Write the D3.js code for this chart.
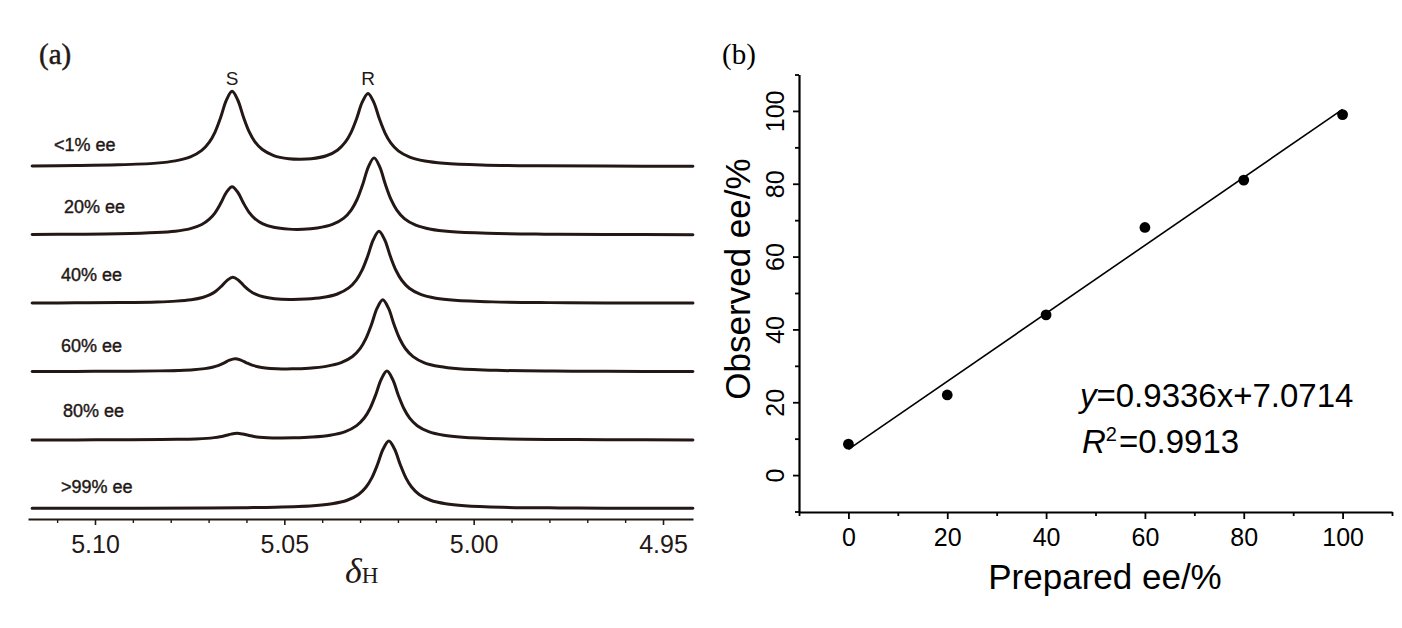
<!DOCTYPE html>
<html><head><meta charset="utf-8">
<script src="https://cdn.jsdelivr.net/npm/d3@7"></script>
<style>html,body{margin:0;padding:0;background:#fff}svg{display:block}</style>
</head><body>
<svg id="chart" width="1402" height="628"></svg>
<script>
// ---------- Panel (a) data: 1H NMR traces (chemical shift in ppm, intensity in % of tallest peak) ----------
const traceLabels = ["<1% ee", "20% ee", "40% ee", "60% ee", "80% ee", ">99% ee"];
const peakLabels = ["S", "R"];
const peakLabelShift = [5.0638, 5.0279];

const shift1 = [5.1166, 5.105, 5.0938, 5.0838, 5.0788, 5.0748, 5.0718, 5.0698, 5.0683, 5.0668, 5.0653, 5.0638, 5.0623, 5.0608, 5.0593, 5.0578, 5.0558, 5.0528, 5.0488, 5.0459, 5.0429, 5.0389, 5.0359, 5.0339, 5.0324, 5.0309, 5.0294, 5.0279, 5.0264, 5.0249, 5.0234, 5.0219, 5.0199, 5.0169, 5.0129, 5.0079, 4.9979, 4.9829, 4.965, 4.9421];
const int1   = [0.8, 1.2, 2.2, 4.5, 7.5, 12.8, 21.4, 32.4, 45.9, 65.6, 88.4, 100.2, 88.7, 66.0, 46.5, 33.3, 22.6, 14.6, 10.4, 9.7, 10.3, 14.3, 22.1, 32.4, 45.2, 64.0, 86.1, 97.3, 85.8, 63.6, 44.6, 31.5, 20.8, 12.5, 7.3, 4.4, 2.1, 1.0, 0.6, 0.3];

const shift2 = [5.1166, 5.105, 5.0938, 5.0838, 5.0788, 5.0748, 5.0718, 5.0698, 5.0683, 5.0668, 5.0653, 5.0638, 5.0623, 5.0608, 5.0593, 5.0578, 5.0558, 5.0528, 5.0488, 5.0451, 5.0413, 5.0373, 5.0343, 5.0323, 5.0308, 5.0293, 5.0278, 5.0263, 5.0248, 5.0233, 5.0218, 5.0203, 5.0183, 5.0153, 5.0113, 5.0063, 4.9963, 4.9813, 4.965, 4.9421];
const int2   = [0.6, 0.9, 1.5, 3.1, 5.0, 8.4, 13.9, 21.0, 29.5, 42.1, 56.7, 64.2, 56.9, 42.5, 30.1, 21.8, 15.0, 10.1, 7.7, 7.5, 9.1, 13.9, 22.4, 33.5, 47.2, 67.3, 90.8, 102.7, 90.6, 67.1, 46.9, 33.0, 21.7, 12.9, 7.5, 4.4, 2.1, 1.0, 0.6, 0.3];

const shift3 = [5.1166, 5.105, 5.0936, 5.0836, 5.0786, 5.0746, 5.0716, 5.0696, 5.0681, 5.0666, 5.0651, 5.0636, 5.0621, 5.0606, 5.0591, 5.0576, 5.0556, 5.0526, 5.0486, 5.0443, 5.0400, 5.0360, 5.0330, 5.0310, 5.0295, 5.0280, 5.0265, 5.0250, 5.0235, 5.0220, 5.0205, 5.0190, 5.0170, 5.0140, 5.0100, 5.0050, 4.9950, 4.9800, 4.965, 4.9421];
const int3   = [0.4, 0.6, 1.0, 1.8, 2.9, 4.8, 7.7, 11.5, 16.1, 22.8, 30.6, 34.7, 30.8, 23.1, 16.6, 12.2, 8.7, 6.2, 5.1, 5.6, 7.6, 12.4, 20.5, 31.0, 43.8, 62.7, 84.7, 96.0, 84.7, 62.6, 43.7, 30.7, 20.1, 11.9, 6.8, 4.0, 1.9, 0.9, 0.5, 0.3];

const shift4 = [5.1166, 5.105, 5.0930, 5.0830, 5.0780, 5.0740, 5.0710, 5.0690, 5.0675, 5.0660, 5.0645, 5.0630, 5.0615, 5.0600, 5.0585, 5.0570, 5.0550, 5.0520, 5.0480, 5.0435, 5.0390, 5.0350, 5.0320, 5.0300, 5.0285, 5.0270, 5.0255, 5.0240, 5.0225, 5.0210, 5.0195, 5.0180, 5.0160, 5.0130, 5.0090, 5.0040, 4.9940, 4.9790, 4.965, 4.9421];
const int4   = [0.3, 0.4, 0.6, 1.1, 1.7, 2.6, 4.1, 6.0, 8.2, 11.5, 15.4, 17.4, 15.5, 11.9, 8.7, 6.7, 5.0, 4.0, 3.8, 4.7, 7.1, 12.0, 20.2, 30.7, 43.7, 62.6, 84.7, 96.0, 84.7, 62.5, 43.6, 30.6, 20.1, 11.8, 6.8, 3.9, 1.8, 0.8, 0.5, 0.3];

const shift5 = [5.1166, 5.105, 5.0925, 5.0825, 5.0775, 5.0735, 5.0705, 5.0685, 5.0670, 5.0655, 5.0640, 5.0625, 5.0610, 5.0595, 5.0580, 5.0565, 5.0545, 5.0515, 5.0475, 5.0427, 5.0379, 5.0339, 5.0309, 5.0289, 5.0274, 5.0259, 5.0244, 5.0229, 5.0214, 5.0199, 5.0184, 5.0169, 5.0149, 5.0119, 5.0079, 5.0029, 4.9929, 4.9779, 4.965, 4.9421];
const int5   = [0.2, 0.3, 0.5, 0.8, 1.1, 1.6, 2.3, 3.3, 4.4, 6.1, 8.0, 9.0, 8.1, 6.4, 4.9, 3.9, 3.2, 2.8, 3.0, 4.1, 6.6, 11.4, 19.3, 29.4, 41.8, 60.0, 81.1, 92.0, 81.1, 59.9, 41.8, 29.3, 19.2, 11.3, 6.4, 3.7, 1.7, 0.8, 0.5, 0.2];

const shift6 = [5.1166, 5.09, 5.07, 5.06, 5.0524, 5.0424, 5.0374, 5.0334, 5.0304, 5.0284, 5.0269, 5.0254, 5.0239, 5.0224, 5.0209, 5.0194, 5.0179, 5.0164, 5.0144, 5.0114, 5.0074, 5.0024, 4.9924, 4.9774, 4.965, 4.9421];
const int6   = [0.2, 0.3, 0.7, 1.1, 1.65, 3.63, 6.26, 10.98, 18.72, 28.65, 40.82, 58.62, 79.37, 90.0, 79.37, 58.62, 40.82, 28.65, 18.72, 10.98, 6.26, 3.63, 1.65, 0.74, 0.46, 0.23];

const shiftTicks = [5.10, 5.05, 5.00, 4.95];
const shiftMinorTicks = [5.11, 5.09, 5.08, 5.07, 5.06, 5.04, 5.03, 5.02, 5.01, 4.99, 4.98, 4.97, 4.96];

// ---------- Panel (b) data ----------
const preparedEE = [0, 20, 40, 60, 80, 100];
const observedEE = [8.5, 22, 44, 68, 81, 99];
const fitSlope = 0.9336;
const fitIntercept = 7.0714;
const fitR2 = 0.9913;
const eeTicks = [0, 20, 40, 60, 80, 100];
const eeMinorTicks = [-10, 10, 30, 50, 70, 90, 110];

// ---------- layout ----------
const labelPos = [[54, -15.5], [64, -22], [61, -22], [61, -20], [63, -23], [61, -15.5]];
const SANS = "'Liberation Sans', Arial, Helvetica, sans-serif";
const SERIF = "'Liberation Serif', 'Times New Roman', serif";
const ink = "#231815";

const svg = d3.select("#chart");

// ================= Panel (a) =================
const gA = svg.append("g");
const xA = d3.scaleLinear().domain([5.11769, 4.94208]).range([28, 693]);
const base = d3.scalePoint().domain(traceLabels).range([166.5, 508.5]);
const hA = d3.scaleLinear().domain([0, 100]).range([0, 75]);

const shifts = [shift1, shift2, shift3, shift4, shift5, shift6];
const ints = [int1, int2, int3, int4, int5, int6];

traceLabels.forEach((lab, i) => {
  const pts = shifts[i].map((s, j) => [s, ints[i][j]]);
  const line = d3.line()
    .x(d => xA(d[0]))
    .y(d => base(lab) - hA(d[1]))
    .curve(d3.curveCatmullRom.alpha(0.5));
  gA.append("path").attr("d", line(pts))
    .attr("fill", "none").attr("stroke", ink).attr("stroke-width", 3)
    .attr("stroke-linejoin", "round").attr("stroke-linecap", "round");
  gA.append("text").text(lab)
    .attr("x", labelPos[i][0]).attr("y", base(lab) + labelPos[i][1])
    .attr("font-family", SANS).attr("font-size", 18).attr("fill", ink)
    .attr("stroke", ink).attr("stroke-width", 0.4);
});

peakLabels.forEach((p, i) => {
  gA.append("text").text(p)
    .attr("x", xA(peakLabelShift[i])).attr("y", 85)
    .attr("text-anchor", "middle").attr("font-family", SANS).attr("font-size", 19).attr("fill", ink);
});

const axA = gA.append("g").attr("transform", "translate(0,519)")
  .call(d3.axisBottom(xA).tickValues(shiftTicks).tickFormat(d3.format(".2f")).tickSize(6).tickSizeOuter(0).tickPadding(10));
axA.select(".domain").attr("stroke", ink).attr("stroke-width", 2.2);
axA.selectAll(".tick line").attr("stroke", ink).attr("stroke-width", 1.6);
axA.selectAll(".tick text").attr("font-family", SANS).attr("font-size", 25).attr("fill", ink);
const axAm = gA.append("g").attr("transform", "translate(0,519)")
  .call(d3.axisBottom(xA).tickValues(shiftMinorTicks).tickFormat("").tickSize(4).tickSizeOuter(0));
axAm.select(".domain").remove();
axAm.selectAll(".tick line").attr("stroke", ink).attr("stroke-width", 1.4);

const dl = gA.append("text").attr("x", 345).attr("y", 583).attr("fill", ink).attr("font-family", SERIF);
dl.append("tspan").text("δ").attr("font-style", "italic").attr("font-size", 36);
dl.append("tspan").text("H").attr("font-size", 23);

gA.append("text").text("(a)").attr("x", 39).attr("y", 64)
  .attr("font-family", SERIF).attr("font-size", 29).attr("fill", ink)
  .attr("stroke", ink).attr("stroke-width", 0.5);

// ================= Panel (b) =================
const gB = svg.append("g");
const xB = d3.scaleLinear().domain([-10, 110]).range([799, 1392]);
const yB = d3.scaleLinear().domain([-10, 110]).range([511.5, 74.5]);

const axBx = gB.append("g").attr("transform", "translate(0,512)")
  .call(d3.axisBottom(xB).tickValues(eeTicks).tickSize(7).tickSizeOuter(0).tickPadding(9));
axBx.select(".domain").attr("stroke", "#000").attr("stroke-width", 2.2);
axBx.selectAll(".tick line").attr("stroke-width", 1.8);
axBx.selectAll(".tick text").attr("font-family", SANS).attr("font-size", 25).attr("fill", "#000");
const axBxm = gB.append("g").attr("transform", "translate(0,512)")
  .call(d3.axisBottom(xB).tickValues(eeMinorTicks).tickFormat("").tickSize(4).tickSizeOuter(0));
axBxm.select(".domain").remove();
axBxm.selectAll(".tick line").attr("stroke-width", 1.8);

const axBy = gB.append("g").attr("transform", "translate(799,0)")
  .call(d3.axisLeft(yB).tickValues(eeTicks).tickSize(6).tickSizeOuter(0));
axBy.select(".domain").attr("stroke", "#000").attr("stroke-width", 2.2);
axBy.selectAll(".tick line").attr("stroke-width", 1.8);
axBy.selectAll(".tick text")
  .attr("x", 0).attr("dy", 0).attr("text-anchor", "middle")
  .attr("transform", "translate(-15,0) rotate(-90)")
  .attr("font-family", SANS).attr("font-size", 25).attr("fill", "#000");
const axBym = gB.append("g").attr("transform", "translate(799,0)")
  .call(d3.axisLeft(yB).tickValues(eeMinorTicks).tickFormat("").tickSize(4).tickSizeOuter(0));
axBym.select(".domain").remove();
axBym.selectAll(".tick line").attr("stroke-width", 1.8);

// fit line
const fitX = [0, 100];
gB.append("path")
  .attr("d", d3.line().x(d => xB(d)).y(d => yB(fitSlope * d + fitIntercept))(fitX))
  .attr("stroke", "#000").attr("stroke-width", 1.6).attr("fill", "none");

gB.selectAll("circle.pt").data(preparedEE).enter().append("circle")
  .attr("class", "pt")
  .attr("cx", d => xB(d)).attr("cy", (d, i) => yB(observedEE[i])).attr("r", 5.4).attr("fill", "#000");

gB.append("text").text("Observed ee/%")
  .attr("transform", "translate(750,279) rotate(-90)")
  .attr("text-anchor", "middle").attr("font-family", SANS).attr("font-size", 35).attr("fill", "#000");
gB.append("text").text("Prepared ee/%")
  .attr("x", 1105).attr("y", 589)
  .attr("text-anchor", "middle").attr("font-family", SANS).attr("font-size", 35).attr("fill", "#000");

const eq1 = gB.append("text").attr("x", 1080).attr("y", 407).attr("font-family", SANS).attr("font-size", 33).attr("fill", "#000");
eq1.append("tspan").text("y").attr("font-style", "italic");
eq1.append("tspan").text("=" + fitSlope.toFixed(4) + "x+" + fitIntercept.toFixed(4));
const eq2 = gB.append("text").attr("x", 1082).attr("y", 453).attr("font-family", SANS).attr("font-size", 33).attr("fill", "#000");
eq2.append("tspan").text("R").attr("font-style", "italic");
eq2.append("tspan").text("2").attr("font-size", 20).attr("dy", -12);
eq2.append("tspan").text("=" + fitR2.toFixed(4)).attr("dy", 12).attr("dx", 2);

gB.append("text").text("(b)").attr("x", 722).attr("y", 64)
  .attr("font-family", SERIF).attr("font-size", 29).attr("fill", "#000");
</script>
</body></html>
